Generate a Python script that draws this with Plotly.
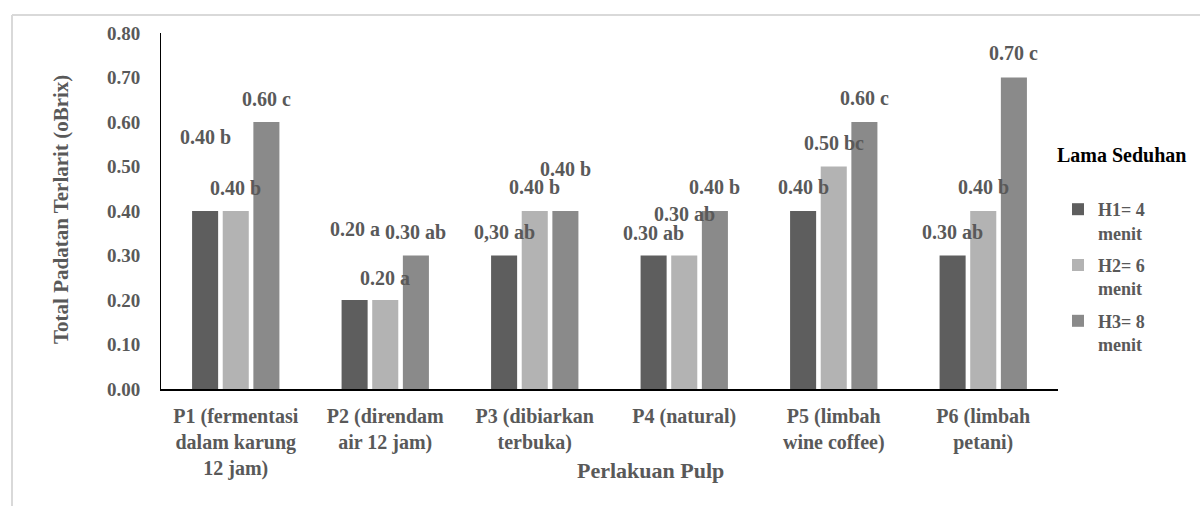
import plotly.graph_objects as go

# ---------------- data ----------------
categories = [
    "P1 (fermentasi<br>dalam karung<br>12 jam)",
    "P2 (direndam<br>air 12 jam)",
    "P3 (dibiarkan<br>terbuka)",
    "P4 (natural)",
    "P5 (limbah<br>wine coffee)",
    "P6 (limbah<br>petani)",
]
series_names = ["H1= 4<br>menit", "H2= 6<br>menit", "H3= 8<br>menit"]
h1_values = [0.40, 0.20, 0.30, 0.30, 0.40, 0.30]
h2_values = [0.40, 0.20, 0.40, 0.30, 0.50, 0.40]
h3_values = [0.60, 0.30, 0.40, 0.40, 0.60, 0.70]
h1_labels = ["0.40 b", "0.20 a", "0,30 ab", "0.30 ab", "0.40 b", "0.30 ab"]
h2_labels = ["0.40 b", "0.20 a", "0.40 b", "0.30 ab", "0.50 bc", "0.40 b"]
h3_labels = ["0.60 c", "0.30 ab", "0.40 b", "0.40 b", "0.60 c", "0.70 c"]
y_ticks = [0.0, 0.1, 0.2, 0.3, 0.4, 0.5, 0.6, 0.7, 0.8]

# ---------------- styling / layout ----------------
W, H = 1200, 506
ML, MR, MT, MB = 161, 142, 33, 117
PW, PH = W - ML - MR, H - MT - MB
BARGAP, BARGROUPGAP = 0.385, 0.15
colors = ["#5e5e5e", "#b3b3b3", "#8a8a8a"]
FONT = "Liberation Serif"
GRAY = "#595959"
# label offsets (pixels above the bar top) per series
label_shift = [
    [74, 71, 24, 23, 24, 24],
    [23, 22, 24, 42, 24, 24],
    [23, 24, 42, 24, 24, 25],
]


def px_x(px):
    return (px - ML) / PW


def px_y(py):
    return (H - MB - py) / PH


fig = go.Figure()
all_values = [h1_values, h2_values, h3_values]
all_labels = [h1_labels, h2_labels, h3_labels]
for i in range(3):
    fig.add_trace(go.Bar(
        x=categories, y=all_values[i], name=series_names[i],
        marker=dict(color=colors[i], line=dict(width=0)),
        legendgroup=f"g{i}",
    ))

slot = PW / len(categories) * (1 - BARGAP) / 3
annotations = []
for i in range(3):
    for j, cat in enumerate(categories):
        annotations.append(dict(
            x=cat, y=all_values[i][j], xref="x", yref="y",
            text=f"<b>{all_labels[i][j]}</b>", showarrow=False,
            xshift=(i - 1) * slot, yshift=label_shift[i][j],
            yanchor="middle", xanchor="center",
            font=dict(family=FONT, size=20, color=GRAY),
        ))

# axis titles
annotations.append(dict(
    x=px_x(650), y=px_y(470), xref="paper", yref="paper",
    text="<b>Perlakuan Pulp</b>", showarrow=False,
    xanchor="center", yanchor="middle",
    font=dict(family=FONT, size=22, color=GRAY),
))
annotations.append(dict(
    x=px_x(61), y=px_y(210), xref="paper", yref="paper",
    text="<b>Total Padatan Terlarit (oBrix)</b>", showarrow=False,
    textangle=-90, xanchor="center", yanchor="middle",
    font=dict(family=FONT, size=21, color=GRAY),
))
# legend title
annotations.append(dict(
    x=px_x(1055), y=px_y(155), xref="paper", yref="paper",
    text="<b>Lama Seduhan</b>", showarrow=False,
    xanchor="left", yanchor="middle",
    font=dict(family=FONT, size=20, color="#000000"),
))

shapes = [
    dict(type="line", xref="paper", yref="paper",
         x0=px_x(12), x1=px_x(12), y0=px_y(15), y1=px_y(530),
         line=dict(color="#d9d9d9", width=2)),
    dict(type="line", xref="paper", yref="paper",
         x0=px_x(12), x1=px_x(1220), y0=px_y(15), y1=px_y(15),
         line=dict(color="#d9d9d9", width=2)),
]

fig.update_layout(
    width=W, height=H,
    margin=dict(l=ML, r=MR, t=MT, b=MB, autoexpand=False),
    paper_bgcolor="white", plot_bgcolor="white",
    barmode="group", bargap=BARGAP, bargroupgap=BARGROUPGAP,
    font=dict(family=FONT, size=19, color=GRAY),
    annotations=annotations, shapes=shapes,
    legend=dict(
        x=px_x(1058), y=px_y(191), xanchor="left", yanchor="top",
        font=dict(family=FONT, size=18, color=GRAY, weight="bold"),
        valign="top", tracegroupgap=6, itemwidth=30,
        bgcolor="rgba(0,0,0,0)",
    ),
    showlegend=True,
)
fig.update_xaxes(
    showline=True, linecolor="#000000", linewidth=2,
    showgrid=False, ticks="",
    tickfont=dict(family=FONT, size=20, color=GRAY, weight="bold"),
    ticklabelstandoff=8, zeroline=False,
)
fig.update_yaxes(
    range=[0, 0.8], tickvals=y_ticks, tickformat=".2f",
    showline=True, linecolor="#000000", linewidth=1,
    showgrid=False, zeroline=False, ticks="",
    tickfont=dict(family=FONT, size=19, color=GRAY, weight="bold"),
    ticklabelstandoff=16,
)

fig.write_html("out.html", config={"displayModeBar": False},
               post_script="document.body.style.margin='0px';")
